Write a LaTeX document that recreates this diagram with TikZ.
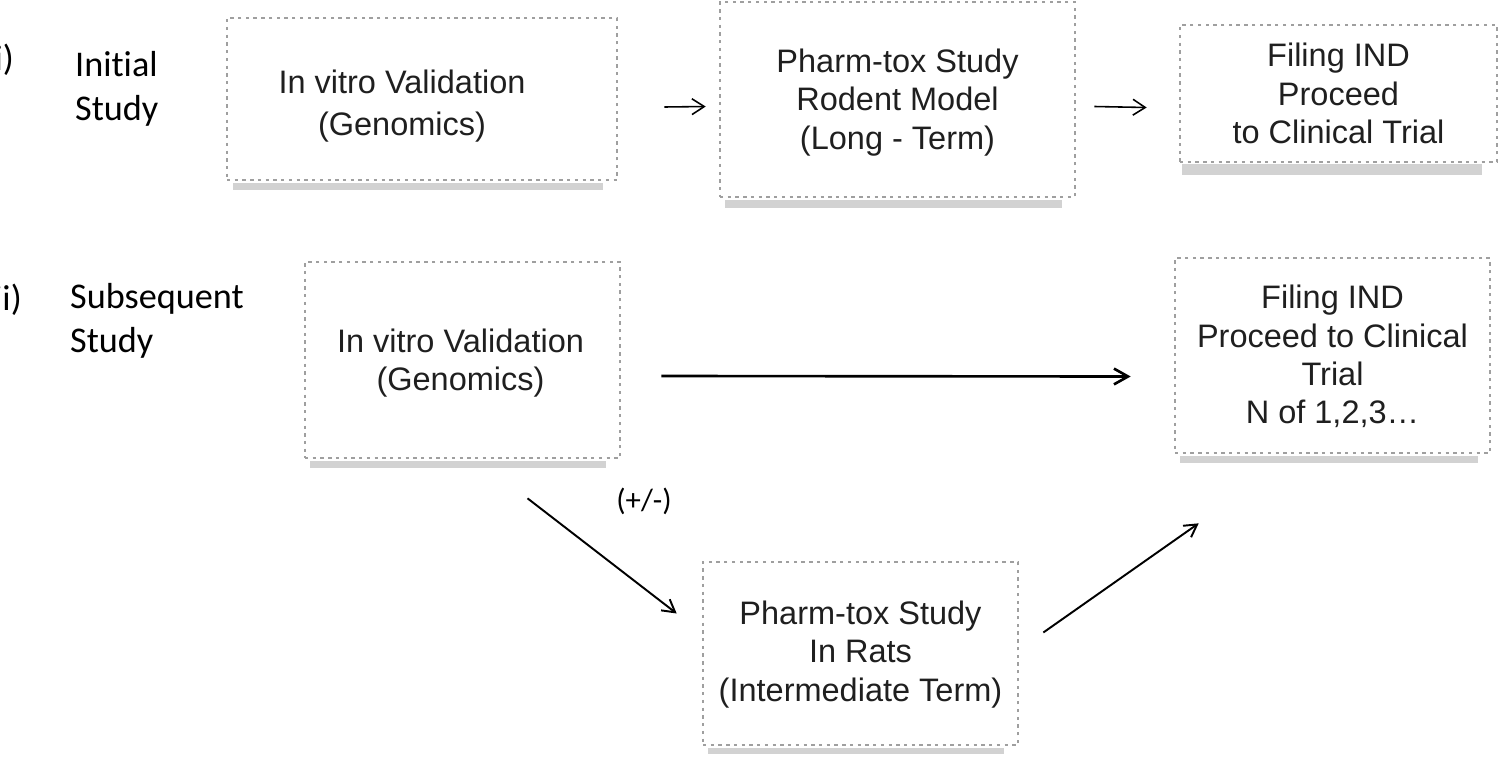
\documentclass[tikz,border=0pt]{standalone}
\usepackage{fontspec}
\setmainfont{Liberation Sans}
\newfontfamily\labfont[Ligatures=NoCommon]{Carlito}
\usetikzlibrary{arrows.meta,calc,fit}
\tikzset{
  box/.style={draw=gray!75, line width=1.5pt, dash pattern=on 1.9pt off 2.5pt, inner sep=0pt},
  boxtext/.style={align=center, inner sep=0pt, font=\fontsize{18.5}{21.8}\selectfont, text=black!88},
  shadowc/.style={fill=gray!35},
  lab/.style={anchor=west, align=left, font=\labfont\fontsize{20.6}{25}\selectfont},
  arrthin/.style={line width=0.9pt, -{Straight Barb[length=7pt,width=9pt]}},
  arrthick/.style={line width=1.5pt, -{Straight Barb[length=8pt,width=9pt]}},
  arrdiag/.style={line width=1.1pt, -{Straight Barb[length=7pt,width=8pt]}}
}
\begin{document}
\begin{tikzpicture}[x=0.02cm,y=-0.02cm]
\useasboundingbox (0,0) rectangle (1500,761);
\clip (0,0) rectangle (1500,761);
% shadows
\fill[shadowc] (233,183) rectangle (603,190);
\fill[shadowc] (725,200) rectangle (1062,208);
\fill[shadowc] (1182,164) rectangle (1482,175);
\fill[shadowc] (310,461) rectangle (606,468);
\fill[shadowc] (1180,456) rectangle (1478,463);
\fill[shadowc] (708,748) rectangle (1004,754);
% boxes
\node[box, fit={(227,18)(617,180)}] (a) {};
\node[box, fit={(720,2)(1075,197)}] (b) {};
\node[box, fit={(1180,25)(1497,162)}] (c) {};
\node[box, fit={(305,262)(620,458)}] (d) {};
\node[box, fit={(1175,258)(1490,453)}] (e) {};
\node[box, fit={(703,562)(1018,745)}] (f) {};
% box texts
\node[boxtext, font=\fontsize{18.5}{24}\selectfont] (at) at ($(a.center)+(-20,7)$) {In vitro Validation\\(Genomics)};
\node[boxtext] (bt) at ($(b.center)+(0,3)$) {Pharm-tox Study\\Rodent Model\\(Long - Term)};
\node[boxtext] (ct) at ($(c.center)+(0,0)$) {Filing IND\\Proceed\\to Clinical Trial};
\node[boxtext] (dt) at ($(d.center)+(-2,3)$) {In vitro Validation\\(Genomics)};
\node[boxtext] (et) at ($(e.center)+(0,1)$) {Filing IND\\Proceed to Clinical\\Trial\\N of 1,2,3\dots};
\node[boxtext] (ft) at ($(f.center)+(0,1)$) {Pharm-tox Study\\In Rats\\(Intermediate Term)};
% labels
\node[anchor=east, font=\labfont\fontsize{20.6}{25}\selectfont] (li) at (20,60) {i)};
\node[lab] (l1) at (69,89) {Initial\\Study};
\node[anchor=east, font=\labfont\fontsize{20.6}{25}\selectfont] (lii) at (28,300) {ii)};
\node[lab] (l2) at (64,321) {Subsequent\\Study};
\node[font=\labfont\fontsize{17.5}{20}\selectfont] (pm) at (644,501) {(+/-)};
% arrows
\draw[arrthin] ($(a.east)+(46,8)$) -- ($(b.west)+(-13,7)$);
\draw[arrthin] ($(b.east)+(18,7)$) -- ($(c.west)+(-32,14)$);
\draw[arrthick] ($(d.east)+(40,16)$) -- ($(e.west)+(-43,21)$);
\draw[arrdiag] ($(d.south)+(65,39)$) -- ($(f.west)+(-25,-40)$);
\draw[arrdiag] ($(f.east)+(24,-21)$) -- ($(e.south west)+(25,69)$);
\end{tikzpicture}
\end{document}
